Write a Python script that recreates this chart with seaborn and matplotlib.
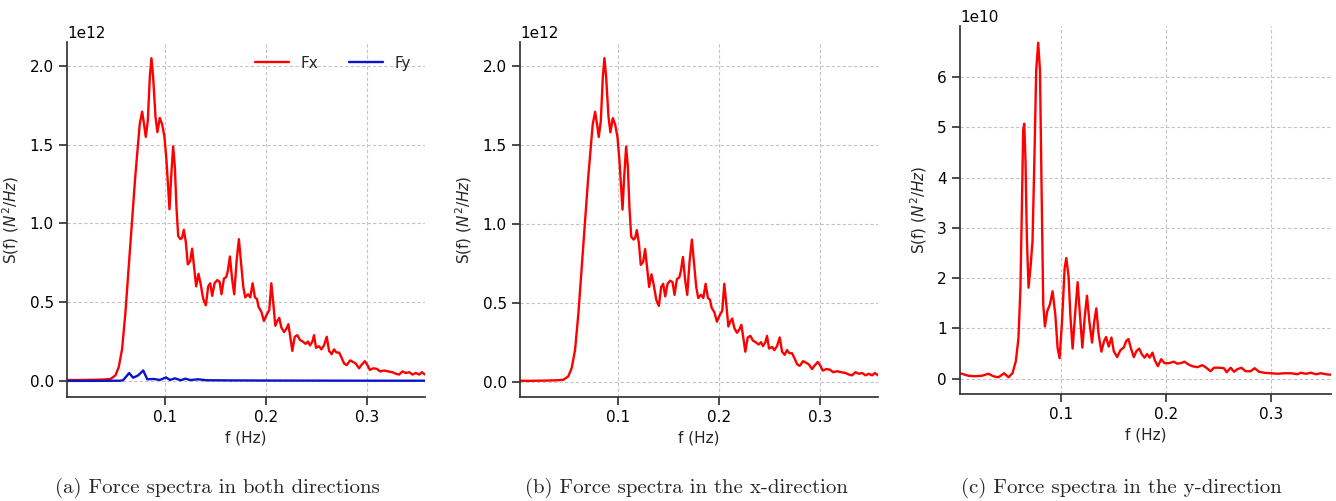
import matplotlib
import matplotlib.pyplot as plt
import seaborn as sns
import numpy as np
matplotlib.use('Agg')

# Fx force spectrum (N^2/Hz, units of 1e12)
freq_x = [0.0025, 0.010, 0.020, 0.030, 0.040, 0.0455, 0.0504, 0.0537, 0.057, 0.0603,
          0.0636, 0.067, 0.070, 0.0726, 0.0745, 0.0769, 0.0788, 0.0805, 0.0825, 0.0845,
          0.0861, 0.0878, 0.0901, 0.092, 0.0944, 0.0967, 0.099, 0.101, 0.1026, 0.104,
          0.1056, 0.1076, 0.1093, 0.1109, 0.1126, 0.1149, 0.1165, 0.1182, 0.1202, 0.1221,
          0.1245, 0.1264, 0.1284, 0.1304, 0.1327, 0.1347, 0.1374, 0.140, 0.1423, 0.1443,
          0.1463, 0.1486, 0.1512, 0.1536, 0.1555, 0.1579, 0.1602, 0.1618, 0.1638, 0.1661,
          0.1681, 0.1704, 0.1727, 0.175, 0.177, 0.179, 0.1817, 0.184, 0.1863, 0.1886,
          0.1906, 0.1922, 0.1949, 0.1975, 0.2002, 0.2028, 0.2048, 0.2068, 0.2088, 0.2107,
          0.2127, 0.2147, 0.2174, 0.2197, 0.2217, 0.2236, 0.2256, 0.228, 0.2306, 0.2332,
          0.2359, 0.2388, 0.2411, 0.2431, 0.2455, 0.2471, 0.2491, 0.2521, 0.2544, 0.257,
          0.2597, 0.262, 0.2646, 0.2669, 0.2693, 0.2719, 0.2742, 0.2769, 0.2795, 0.2828,
          0.2858, 0.2884, 0.2917, 0.294, 0.2974, 0.300, 0.3023, 0.306, 0.3093, 0.3126,
          0.3165, 0.3205, 0.3248, 0.3281, 0.3314, 0.3347, 0.338, 0.3413, 0.3446, 0.3479,
          0.3512, 0.3539, 0.357]
spec_x = [0.006, 0.005, 0.006, 0.007, 0.009, 0.012, 0.034, 0.087, 0.20, 0.43,
          0.72, 1.02, 1.29, 1.49, 1.63, 1.71, 1.63, 1.55, 1.65, 1.93,
          2.05, 1.93, 1.68, 1.58, 1.67, 1.63, 1.55, 1.40, 1.23, 1.09,
          1.29, 1.49, 1.36, 1.10, 0.92, 0.90, 0.91, 0.96, 0.88, 0.74,
          0.76, 0.84, 0.72, 0.60, 0.68, 0.62, 0.52, 0.48, 0.60, 0.62,
          0.54, 0.62, 0.64, 0.63, 0.55, 0.65, 0.66, 0.70, 0.79, 0.64,
          0.55, 0.76, 0.90, 0.74, 0.60, 0.53, 0.55, 0.53, 0.62, 0.53,
          0.52, 0.47, 0.44, 0.38, 0.42, 0.45, 0.62, 0.49, 0.35, 0.38,
          0.40, 0.34, 0.31, 0.33, 0.36, 0.28, 0.19, 0.28, 0.29, 0.26,
          0.25, 0.235, 0.25, 0.225, 0.25, 0.29, 0.21, 0.22, 0.20, 0.225,
          0.28, 0.19, 0.17, 0.20, 0.18, 0.18, 0.15, 0.11, 0.10, 0.13,
          0.12, 0.11, 0.08, 0.10, 0.125, 0.10, 0.07, 0.08, 0.076, 0.06,
          0.066, 0.06, 0.055, 0.045, 0.04, 0.06, 0.05, 0.055, 0.04, 0.05,
          0.04, 0.055, 0.04]

# Fy force spectrum seen on the 1e12 scale of panel (a)
freq_y_small = [0.0025, 0.030, 0.055, 0.058, 0.0615, 0.064, 0.068, 0.073, 0.078, 0.082,
                0.088, 0.0945, 0.1005, 0.1045, 0.1094, 0.115, 0.120, 0.1243, 0.1326, 0.140,
                0.160, 0.200, 0.300, 0.357]
spec_y_small = [0.0, 0.0, 0.001, 0.004, 0.03, 0.05, 0.02, 0.035, 0.066, 0.01,
                0.012, 0.006, 0.022, 0.006, 0.016, 0.004, 0.014, 0.005, 0.010, 0.004,
                0.003, 0.002, 0.001, 0.001]

# Fy force spectrum (N^2/Hz, units of 1e10)
freq_y = [0.0035, 0.0067, 0.0115, 0.0179, 0.0243, 0.0306, 0.0353, 0.0401, 0.0456, 0.0497,
          0.0535, 0.0567, 0.0592, 0.0611, 0.0625, 0.0637, 0.0647, 0.0659, 0.0672, 0.0688,
          0.0707, 0.0726, 0.0745, 0.0761, 0.078, 0.0797, 0.0812, 0.0828, 0.0844, 0.0866,
          0.0892, 0.0917, 0.0943, 0.0965, 0.0984, 0.1007, 0.1032, 0.1048, 0.107, 0.1086,
          0.1108, 0.1134, 0.1156, 0.1175, 0.1201, 0.1223, 0.1245, 0.1267, 0.1293, 0.1315,
          0.1334, 0.1356, 0.1382, 0.1408, 0.1427, 0.1452, 0.1478, 0.150, 0.1532, 0.1564,
          0.1595, 0.1618, 0.164, 0.1666, 0.1691, 0.1716, 0.1742, 0.1767, 0.1793, 0.1818,
          0.1843, 0.1869, 0.1891, 0.192, 0.1952, 0.1984, 0.2025, 0.2073, 0.2105, 0.2137,
          0.2175, 0.2207, 0.2248, 0.2296, 0.2344, 0.2375, 0.2423, 0.2455, 0.2502, 0.255,
          0.2576, 0.2614, 0.2646, 0.2678, 0.2716, 0.2757, 0.2805, 0.2843, 0.2884, 0.2932,
          0.2996, 0.306, 0.3123, 0.3187, 0.3251, 0.3283, 0.333, 0.3378, 0.3426, 0.3474,
          0.3521, 0.357]
spec_y = [0.11, 0.09, 0.06, 0.05, 0.06, 0.10, 0.05, 0.03, 0.11, 0.03,
          0.11, 0.35, 0.81, 1.81, 3.47, 4.94, 5.07, 4.34, 2.81, 1.81,
          2.21, 2.74, 4.47, 6.13, 6.68, 6.13, 3.81, 1.48, 1.04, 1.34,
          1.48, 1.74, 1.28, 0.61, 0.41, 1.14, 2.20, 2.40, 2.02, 1.28,
          0.60, 1.35, 1.92, 1.35, 0.62, 1.22, 1.65, 1.15, 0.72, 1.15,
          1.40, 0.88, 0.54, 0.75, 0.83, 0.64, 0.82, 0.55, 0.43, 0.57,
          0.62, 0.75, 0.79, 0.59, 0.43, 0.55, 0.60, 0.49, 0.42, 0.49,
          0.42, 0.52, 0.37, 0.25, 0.39, 0.31, 0.31, 0.34, 0.30, 0.31,
          0.34, 0.29, 0.25, 0.23, 0.27, 0.23, 0.15, 0.22, 0.22, 0.21,
          0.13, 0.22, 0.14, 0.19, 0.22, 0.15, 0.15, 0.21, 0.14, 0.12,
          0.11, 0.10, 0.11, 0.11, 0.09, 0.12, 0.10, 0.12, 0.09, 0.11,
          0.09, 0.08]

captions = ['(a) Force spectra in both directions',
            '(b) Force spectra in the x-direction',
            '(c) Force spectra in the y-direction']

sns.set_theme(style='ticks')
plt.rcParams['font.family'] = ['DejaVu Sans']
plt.rcParams['font.size'] = 11
plt.rcParams['axes.edgecolor'] = '0.2'
plt.rcParams['xtick.color'] = '0.2'
plt.rcParams['ytick.color'] = '0.2'
plt.rcParams['xtick.labelcolor'] = 'black'
plt.rcParams['ytick.labelcolor'] = 'black'

W, H = 1336, 501
fig = plt.figure(figsize=(W / 100, H / 100), dpi=100)


def add_axes_px(left, right, top, bottom):
	return fig.add_axes([left / W, 1 - bottom / H, (right - left) / W, (bottom - top) / H])


def style_axes(ax, xmin, xmax):
	ax.set_xlim(xmin, xmax)
	ax.set_xticks([0.1, 0.2, 0.3])
	ax.grid(True, linestyle=(0, (3, 2)), color='#c4c4c4', linewidth=0.8)
	ax.set_axisbelow(True)
	ax.set_xlabel('f (Hz)', fontsize=11)
	ax.set_ylabel('S(f) ($N^2/Hz$)', fontsize=11, labelpad=6)
	ax.tick_params(labelsize=11)
	ax.yaxis.get_offset_text().set_fontsize(11)
	sns.despine(ax=ax)


fx = np.array(freq_x)
sx = np.array(spec_x) * 1e12
fy = np.array(freq_y)
sy = np.array(spec_y) * 1e10

# (a) both directions
ax1 = add_axes_px(67, 425, 42, 397)
sns.lineplot(x=fx, y=sx, ax=ax1, color='red', linewidth=1.7, label='Fx')
sns.lineplot(x=np.array(freq_y_small), y=np.array(spec_y_small) * 1e12, ax=ax1,
             color='#0a14c8', linewidth=1.7, label='Fy')
style_axes(ax1, fx[0], fx[-1])
ax1.set_yticks([0, 0.5e12, 1.0e12, 1.5e12, 2.0e12])
ax1.legend(loc='upper right', ncol=2, frameon=False, fontsize=11, handlelength=2.2)

# (b) x-direction
ax2 = add_axes_px(520, 878, 42, 397)
sns.lineplot(x=fx, y=sx, ax=ax2, color='red', linewidth=1.7)
style_axes(ax2, fx[0], fx[-1])
ax2.set_yticks([0, 0.5e12, 1.0e12, 1.5e12, 2.0e12])

# (c) y-direction
ax3 = add_axes_px(960, 1331, 26, 394)
sns.lineplot(x=fy, y=sy, ax=ax3, color='red', linewidth=1.7)
style_axes(ax3, fy[0], fy[-1])
ax3.set_yticks(np.arange(0, 7) * 1e10)

for cx, text in zip([217, 686, 1121], captions):
	fig.text(cx / W, 1 - 488 / H, text, ha='center', va='center', fontsize=15, family='cmr10')

fig.savefig('out.png', dpi=100)
plt.close(fig)
